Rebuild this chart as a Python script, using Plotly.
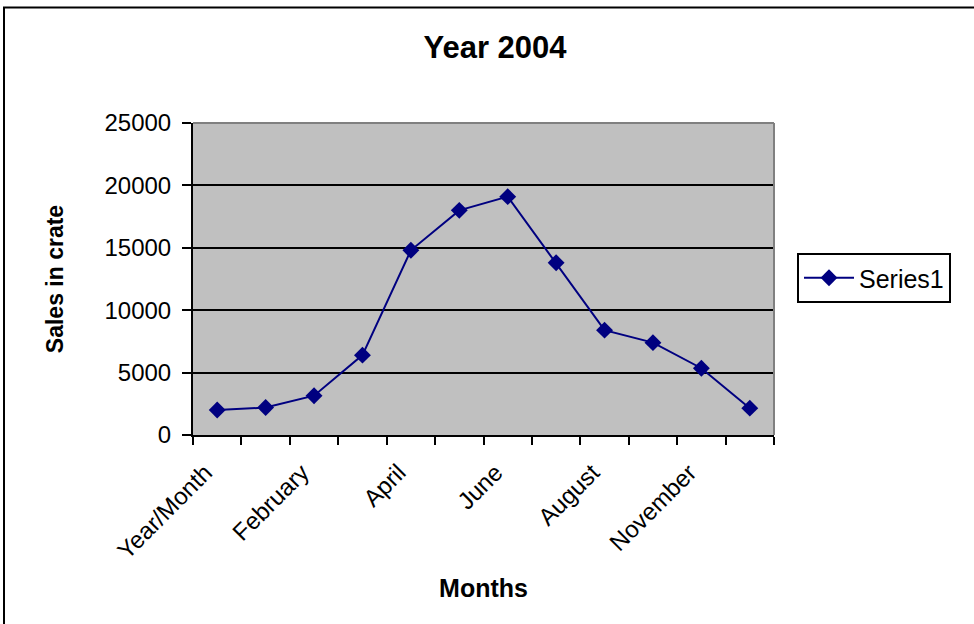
import plotly.graph_objects as go

months = ["Year/Month", "January", "February", "March", "April", "May",
          "June", "July", "August", "September", "November", "December"]
sales = [2000, 2200, 3150, 6400, 14800, 18000, 19100, 13800, 8400, 7400, 5350, 2150]
tick_text = [m if i % 2 == 0 else "" for i, m in enumerate(months)]
y_ticks = [0, 5000, 10000, 15000, 20000, 25000]
y_tick_text = [str(v) for v in y_ticks]

FONT = "Liberation Sans, Arial, sans-serif"
NAVY = "#000080"

fig = go.Figure()
fig.add_trace(go.Scatter(
    x=months, y=sales, mode="lines+markers", name="Series1",
    line=dict(color=NAVY, width=2),
    marker=dict(symbol="diamond", size=13, color=NAVY),
))

L, R, T, B = 193, 200, 123, 189
W, H = 974, 624
pw = W - L - R
ph = H - T - B

def px_x(p):
    return (p - L) / pw

def px_y(p):
    return (H - B - p) / ph

fig.update_layout(
    width=W, height=H,
    margin=dict(l=L, r=R, t=T, b=B, autoexpand=False),
    paper_bgcolor="white",
    plot_bgcolor="#C0C0C0",
    font=dict(family=FONT, color="black", size=24),
    title=dict(text="<b>Year 2004</b>", x=495 / W, xanchor="center",
               y=1 - 47 / H, yanchor="middle", font=dict(size=31)),
    showlegend=True,
    legend=dict(x=px_x(797), y=px_y(278), xanchor="left", yanchor="middle",
                bordercolor="black", borderwidth=2, bgcolor="white",
                itemwidth=50, font=dict(size=25)),
    xaxis=dict(
        type="category", categoryorder="array", categoryarray=months,
        range=[-0.5, len(months) - 0.5],
        tickmode="array", tickvals=months, ticktext=tick_text,
        tickson="boundaries", ticks="outside", ticklen=8, tickwidth=2, tickcolor="black",
        tickangle=-45, tickfont=dict(size=24), ticklabelstandoff=12, ticklabelshift=-12,
        showline=True, linecolor="black", linewidth=2,
        showgrid=False, zeroline=False,
        title=dict(text="<b>Months</b>", font=dict(size=25), standoff=17),
    ),
    yaxis=dict(
        range=[0, 25000], tickmode="array", tickvals=y_ticks, ticktext=y_tick_text,
        ticks="outside", ticklen=9, tickwidth=2, tickcolor="black",
        tickfont=dict(size=24), ticklabelstandoff=6,
        showline=True, linecolor="black", linewidth=2,
        showgrid=True, gridcolor="black", gridwidth=2, zeroline=False,
        title=dict(text="<b>Sales in crate</b>", font=dict(size=23), standoff=34),
    ),
    shapes=[
        # plot area border (top and right, grey)
        dict(type="line", xref="paper", yref="paper", x0=0, x1=1, y0=1, y1=1,
             line=dict(color="#808080", width=2), layer="above"),
        dict(type="line", xref="paper", yref="paper", x0=1, x1=1, y0=0, y1=1,
             line=dict(color="#808080", width=2), layer="above"),
        # chart area outer border
        dict(type="rect", xref="paper", yref="paper",
             x0=px_x(4), x1=px_x(W + 20), y0=px_y(H + 20), y1=px_y(7.5),
             line=dict(color="black", width=2), fillcolor="rgba(0,0,0,0)", layer="above"),
    ],
)

fig.write_html("out.html")
